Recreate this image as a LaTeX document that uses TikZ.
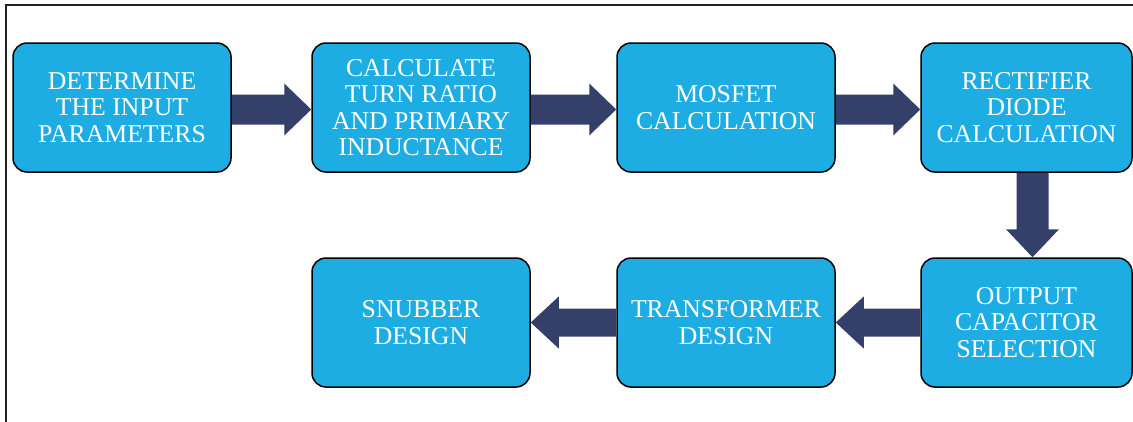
\documentclass[tikz,border=0pt]{standalone}
\usepackage{fontspec}
\setmainfont{Liberation Serif}
\usetikzlibrary{calc}
\definecolor{boxblue}{HTML}{1EADE3}
\definecolor{arrownavy}{HTML}{35406A}
\definecolor{framegray}{HTML}{222222}
\tikzset{
  stepbox/.style={draw=black, line width=1.5pt, fill=boxblue, rounded corners=14pt,
    minimum width=218pt, minimum height=129pt, inner sep=0pt, align=center,
    text=white, font=\fontsize{25.7}{26.3}\selectfont},
  bigarrow/.style={fill=arrownavy, draw=none},
  frameline/.style={draw=framegray, line width=2pt}
}
\newcommand{\arrowRightward}[2]{%
  \fill[bigarrow] ($(#1.east)+(0,-13)$) -- ($(#2.west)+(-27,-13)$) -- ($(#2.west)+(-27,-24)$)
    -- ($(#2.west)+(0,2)$) -- ($(#2.west)+(-27,28)$) -- ($(#2.west)+(-27,17)$)
    -- ($(#1.east)+(0,17)$) -- cycle;}
\newcommand{\arrowLeftward}[2]{%
  \fill[bigarrow] ($(#1.west)+(0,-14)$) -- ($(#2.east)+(28,-14)$) -- ($(#2.east)+(28,-26)$)
    -- ($(#2.east)+(0,0)$) -- ($(#2.east)+(28,26)$) -- ($(#2.east)+(28,14)$)
    -- ($(#1.west)+(0,14)$) -- cycle;}
\begin{document}
\begin{tikzpicture}[x=1pt,y=-1pt]
\useasboundingbox (0,0) rectangle (1133,421);
\coordinate (frameTL) at (6,5);
\coordinate (frameTR) at (1134,5);
\coordinate (frameBL) at (6,422);
\draw[frameline] (frameBL) -- (frameTL) -- (frameTR);

\node[stepbox] (b1) at (122,107.5) {DETERMINE\\THE INPUT\\PARAMETERS};
\node[stepbox] (b2) at (421,107.5) {CALCULATE\\TURN RATIO\\AND PRIMARY\\INDUCTANCE};
\node[stepbox] (b3) at (726,107.5) {MOSFET\\CALCULATION};
\node[stepbox, minimum width=211pt] (b4) at (1026.5,107.5) {RECTIFIER\\DIODE\\CALCULATION};
\node[stepbox, minimum width=211pt] (b7) at (1026.5,322.5) {OUTPUT\\CAPACITOR\\SELECTION};
\node[stepbox] (b6) at (726,322.5) {TRANSFORMER\\DESIGN};
\node[stepbox] (b5) at (421,322.5) {SNUBBER\\DESIGN};

\arrowRightward{b1}{b2}
\arrowRightward{b2}{b3}
\arrowRightward{b3}{b4}
\arrowLeftward{b7}{b6}
\arrowLeftward{b6}{b5}

\fill[bigarrow] ($(b4.south)+(-10,0)$) -- ($(b7.north)+(-10,-28)$) -- ($(b7.north)+(-20.5,-28)$)
  -- ($(b7.north)+(6,0)$) -- ($(b7.north)+(32.5,-28)$) -- ($(b7.north)+(22,-28)$)
  -- ($(b4.south)+(22,0)$) -- cycle;
\end{tikzpicture}
\end{document}
